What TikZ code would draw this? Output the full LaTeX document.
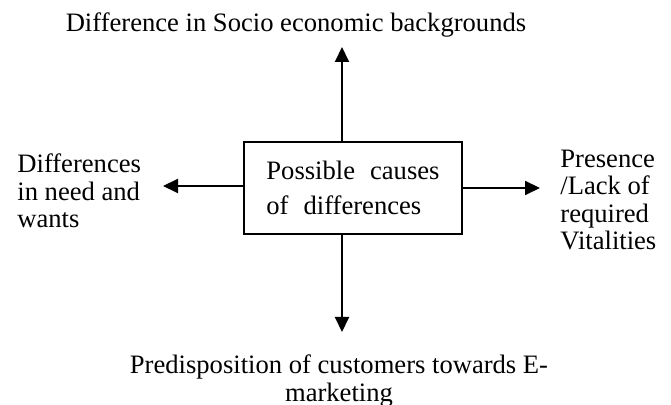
\documentclass[tikz,border=0pt]{standalone}
\usepackage{fontspec}
\setmainfont{Liberation Serif}
\usetikzlibrary{arrows.meta}
\begin{document}
\begin{tikzpicture}[x=0.5pt,y=-0.5pt,
  lbl/.style={inner sep=0pt,font=\fontsize{13.3}{13.75}\selectfont},
  conn/.style={line width=1pt,-{Triangle[length=7.5pt,width=7pt]}}]
\useasboundingbox (0,0) rectangle (671,405);
\node[draw,line width=1pt,minimum width=109pt,minimum height=46pt,inner sep=0pt,
  align=left,font=\fontsize{13.3}{17.5}\selectfont] (box) at (353,188)
  {Possible\hspace{7.5pt}causes\\of\hspace{7.5pt}differences\hspace{3pt}};
\node[lbl,anchor=base] (top) at (296,32) {Difference in Socio economic backgrounds};
\node[lbl,anchor=north west,align=left] (left) at (17,153.4) {Differences\\in need and\\wants};
\node[lbl,anchor=north west,align=left] (right) at (560,149.4) {Presence\\/Lack of\\required\\Vitalities};
\node[lbl,anchor=north,align=center] (bot) at (339,354.8) {Predisposition of customers towards E-\\marketing};
\coordinate (tU) at (342,47);
\coordinate (tD) at (342,332);
\coordinate (tL) at (163,186);
\coordinate (tR) at (540,188);
\draw[conn] (box.north -| tU) -- (tU);
\draw[conn] (box.south -| tD) -- (tD);
\draw[conn] (box.west |- tL) -- (tL);
\draw[conn] (box.east |- tR) -- (tR);
\end{tikzpicture}
\end{document}
